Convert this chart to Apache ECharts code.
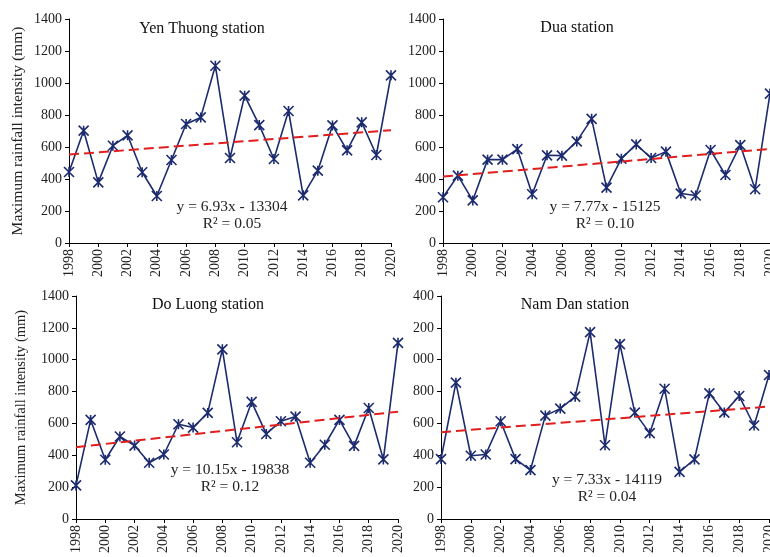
<!DOCTYPE html>
<html>
<head>
<meta charset="utf-8">
<script src="https://cdn.jsdelivr.net/npm/echarts@6/dist/echarts.min.js"></script>
<style>html,body{margin:0;padding:0;background:#fff;}#c{width:770px;height:557px;}</style>
</head>
<body>
<div id="c"></div>
<script>
const years = [1998,1999,2000,2001,2002,2003,2004,2005,2006,2007,2008,2009,2010,2011,2012,2013,2014,2015,2016,2017,2018,2019,2020];
const yenThuong = [444,702,379,608,673,442,294,519,744,785,1108,531,921,737,525,825,298,452,735,579,754,550,1048];
const dua = [286,421,266,521,521,587,305,548,546,635,776,346,527,616,531,571,309,297,581,425,612,336,934];
const doLuong = [211,622,372,518,461,353,405,595,574,666,1065,482,735,534,614,643,353,466,622,459,697,374,1106];
const namDan = [376,856,397,405,614,376,307,649,693,768,1173,463,1098,668,539,818,296,374,789,668,772,587,904];
// trend line end values (at 1998 and 2020)
const trendYears = [1998, 2020];
const trendYenThuong = [553, 705];
const trendDua = [415, 588];
const trendDoLuong = [451, 674];
const trendNamDan = [545, 706];
const stationNames = ['Yen Thuong station','Dua station','Do Luong station','Nam Dan station'];
const equations = ['y = 6.93x - 13304','y = 7.77x - 15125','y = 10.15x - 19838','y = 7.33x - 14119'];
const r2s = ['R² = 0.05','R² = 0.10','R² = 0.12','R² = 0.04'];
const yTitle = 'Maximum rainfall intensity (mm)';

const chart = echarts.init(document.getElementById('c'), null, {renderer:'canvas'});
const FONT = 'Liberation Serif';
const NAVY = '#1c2b6e';
const RED = '#e01e1e';

const grids = [
  {left:69, top:19, width:322, height:224, outerBoundsMode:'none'},
  {left:443, top:19, width:327, height:224, outerBoundsMode:'none'},
  {left:76, top:296, width:322, height:223, outerBoundsMode:'none'},
  {left:441, top:296, width:328, height:223, outerBoundsMode:'none'}
];
const allData = [yenThuong, dua, doLuong, namDan];
const allTrend = [trendYenThuong, trendDua, trendDoLuong, trendNamDan];
const titlePos = [[202,29],[577,28],[208,305],[575,305]];
const eqPos = [[232,207],[605,207],[230,470],[607,480]];
const nameSizes = [15.5, 14.5, 14.5, 14.5];
const nameGaps = [43, 44, 47, 44];

const xAxes = [], yAxes = [], series = [], graphics = [];
grids.forEach((g, i) => {
  xAxes.push({
    gridIndex:i, type:'value', min:1998, max:2020, interval:2,
    axisLine:{show:true, onZero:false, lineStyle:{color:'#000', width:1}},
    axisTick:{show:true, length:4, lineStyle:{color:'#000'}},
    splitLine:{show:false},
    axisLabel:{rotate:90, color:'#222', fontFamily:FONT, fontSize:14, margin:6, formatter: v => String(v)}
  });
  yAxes.push({
    gridIndex:i, type:'value', min:0, max:1400, interval:200,
    axisLine:{show:true, lineStyle:{color:'#000', width:1}},
    axisTick:{show:true, length:4, lineStyle:{color:'#000'}},
    splitLine:{show:false},
    axisLabel:{color:'#222', fontFamily:FONT, fontSize:14, margin:7,
      formatter: i === 3 ? (v => v >= 1000 ? String(v).slice(1) : String(v)) : (v => String(v))},
    name: (i === 0 || i === 2) ? yTitle : '',
    nameLocation:'middle', nameGap:nameGaps[i],
    nameTextStyle:{color:'#222', fontFamily:FONT, fontSize:nameSizes[i]}
  });
  series.push({
    type:'line', xAxisIndex:i, yAxisIndex:i,
    data: years.map((y, k) => [y, allData[i][k]]),
    lineStyle:{color:NAVY, width:1.6},
    symbol:'path://M0,0L10,10M10,0L0,10M5,0L5,10', symbolSize:10, symbolKeepAspect:true,
    itemStyle:{color:NAVY, borderColor:NAVY, borderWidth:1.6},
    clip:false, z:2, animation:false
  });
  series.push({
    type:'line', xAxisIndex:i, yAxisIndex:i,
    data: trendYears.map((y, k) => [y, allTrend[i][k]]),
    lineStyle:{color:RED, width:2, type:[10,5]},
    showSymbol:false, symbol:'none', z:3, animation:false
  });
  graphics.push({type:'text', x:titlePos[i][0], y:titlePos[i][1],
    style:{text:stationNames[i], fontFamily:FONT, fontSize:16, fill:'#111', textAlign:'center', textVerticalAlign:'middle'}});
  graphics.push({type:'text', x:eqPos[i][0], y:eqPos[i][1],
    style:{text:equations[i], fontFamily:FONT, fontSize:15.5, fill:'#222', textAlign:'center', textVerticalAlign:'middle'}});
  graphics.push({type:'text', x:eqPos[i][0], y:eqPos[i][1] + 17,
    style:{text:r2s[i], fontFamily:FONT, fontSize:15.5, fill:'#222', textAlign:'center', textVerticalAlign:'middle'}});
});

chart.setOption({
  backgroundColor:'#fff',
  animation:false,
  grid: grids,
  xAxis: xAxes,
  yAxis: yAxes,
  series: series,
  graphic: graphics
});
</script>
</body>
</html>
